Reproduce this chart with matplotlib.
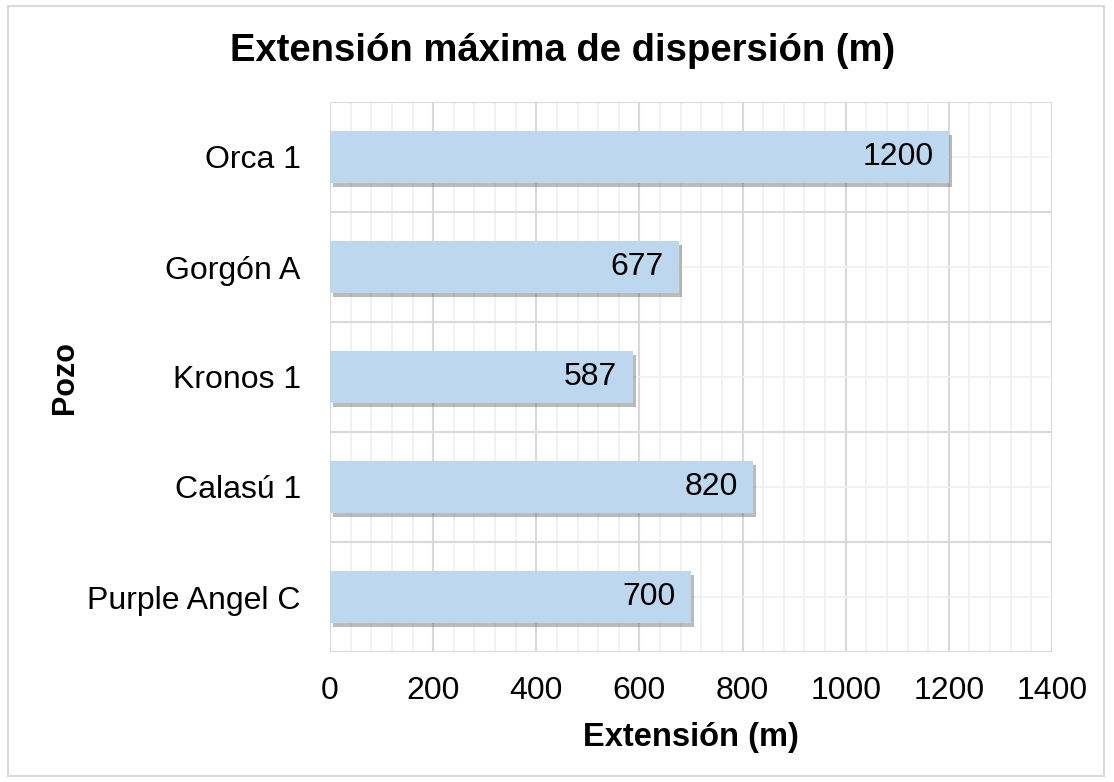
import matplotlib.pyplot as plt
import matplotlib.patheffects as pe
from matplotlib.patches import Rectangle
import numpy as np

plt.rcParams['font.family'] = ['Liberation Sans', 'DejaVu Sans']

# datos
pozos = ["Purple Angel C", "Calasú 1", "Kronos 1", "Gorgón A", "Orca 1"]
extension = [700, 820, 587, 677, 1200]
xticks = [0, 200, 400, 600, 800, 1000, 1200, 1400]

fig = plt.figure(figsize=(11.14, 7.82), dpi=100)
fig.patches.append(Rectangle((8/1114, 6/782), 1096/1114, 770/782, transform=fig.transFigure,
                             fill=False, edgecolor='#d9d9d9', linewidth=1.5))

ax = fig.add_axes([330/1114, 130/782, 722/1114, 550/782])
y = np.arange(len(pozos))
bars = ax.barh(y, extension, height=0.47, color='#BDD7EE', zorder=3,
               path_effects=[pe.SimplePatchShadow(offset=(2, -3), shadow_rgbFace='#555555', alpha=0.4),
                             pe.Normal()])

for yi, v in zip(y, extension):
    ax.annotate(str(v), (v, yi), xytext=(-11, 0), textcoords='offset points',
                ha='right', va='center', fontsize=23, color='black', zorder=4)

ax.set_xlim(0, 1400)
ax.set_ylim(-0.5, len(pozos) - 0.5)
ax.set_xticks(xticks)
ax.set_xticks(np.arange(0, 1401, 40), minor=True)
ax.set_yticks(np.arange(-0.5, len(pozos), 1.0))
ax.set_yticks(y, minor=True)
ax.set_yticklabels([])
ax.set_yticklabels(pozos, minor=True)
ax.tick_params(axis='both', which='both', length=0)
ax.tick_params(axis='x', labelsize=23, pad=17)
ax.tick_params(axis='y', which='minor', labelsize=23, pad=21)
ax.grid(which='major', color='#d9d9d9', linewidth=1.5, zorder=0)
ax.grid(which='minor', color='#f0f0f0', linewidth=1.2, zorder=0)
ax.set_axisbelow(True)
for s in ax.spines.values():
    s.set_visible(False)

ax.set_xlabel("Extensión (m)", fontsize=23.5, fontweight='bold', labelpad=12)
fig.text(65/1114, 1 - 378/782, "Pozo", rotation=90, fontsize=22, fontweight='bold',
         ha='center', va='center')
fig.text(0.505, 1 - 51/782, "Extensión máxima de dispersión (m)", fontsize=27.5,
         fontweight='bold', ha='center', va='center')

fig.savefig("out.png", dpi=100)
